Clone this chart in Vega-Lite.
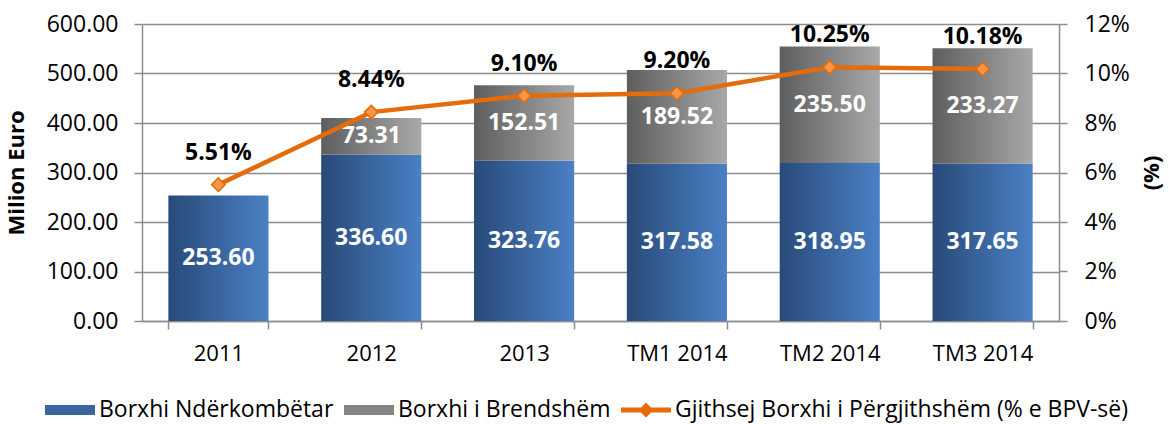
{
  "$schema": "https://vega.github.io/schema/vega-lite/v6.json",
  "width": 917,
  "height": 297,
  "autosize": {"type": "none"},
  "padding": {"left": 142, "top": 24, "right": 110, "bottom": 103},
  "background": "white",
  "config": {
    "font": "Open Sans",
    "view": {"stroke": null},
    "axis": {"labelFont": "Open Sans", "labelColor": "#000000", "titleFont": "Open Sans", "titleColor": "#000000"}
  },
  "datasets": {
    "debt": [
      {"cat": "2011", "series": "Borxhi Ndërkombëtar", "value": 253.60},
      {"cat": "2012", "series": "Borxhi Ndërkombëtar", "value": 336.60},
      {"cat": "2012", "series": "Borxhi i Brendshëm", "value": 73.31},
      {"cat": "2013", "series": "Borxhi Ndërkombëtar", "value": 323.76},
      {"cat": "2013", "series": "Borxhi i Brendshëm", "value": 152.51},
      {"cat": "TM1 2014", "series": "Borxhi Ndërkombëtar", "value": 317.58},
      {"cat": "TM1 2014", "series": "Borxhi i Brendshëm", "value": 189.52},
      {"cat": "TM2 2014", "series": "Borxhi Ndërkombëtar", "value": 318.95},
      {"cat": "TM2 2014", "series": "Borxhi i Brendshëm", "value": 235.50},
      {"cat": "TM3 2014", "series": "Borxhi Ndërkombëtar", "value": 317.65},
      {"cat": "TM3 2014", "series": "Borxhi i Brendshëm", "value": 233.27}
    ],
    "pct": [
      {"cat": "2011", "pct": 0.0551},
      {"cat": "2012", "pct": 0.0844},
      {"cat": "2013", "pct": 0.0910},
      {"cat": "TM1 2014", "pct": 0.0920},
      {"cat": "TM2 2014", "pct": 0.1025},
      {"cat": "TM3 2014", "pct": 0.1018}
    ]
  },
  "encoding": {
    "x": {
      "field": "cat",
      "type": "nominal",
      "sort": null,
      "scale": {"paddingInner": 0.345, "paddingOuter": 0.1725},
      "axis": {
        "title": null,
        "labelAngle": 0,
        "labelFontSize": 22,
        "labelPadding": 14,
        "tickBand": "extent",
        "tickSize": 8,
        "tickColor": "#8c8c8c",
        "tickWidth": 1.5,
        "domainColor": "#8c8c8c",
        "domainWidth": 1.5
      }
    }
  },
  "layer": [
    {
      "data": {"name": "debt"},
      "layer": [
        {
          "mark": {"type": "bar"},
          "encoding": {
            "y": {
              "field": "value",
              "type": "quantitative",
              "stack": "zero",
              "scale": {"domain": [0, 600]},
              "axis": {
                "title": "Milion Euro",
                "titleFontSize": 22,
                "titleFontWeight": "bold",
                "titlePadding": 18,
                "format": ".2f",
                "values": [0, 100, 200, 300, 400, 500, 600],
                "labelFontSize": 23,
                "labelPadding": 16,
                "tickSize": 8,
                "tickColor": "#8c8c8c",
                "tickWidth": 1.5,
                "domainColor": "#8c8c8c",
                "domainWidth": 1.5,
                "grid": true,
                "gridColor": "#8c8c8c",
                "gridWidth": 1.5
              }
            },
            "fill": {
              "condition": {
                "test": "datum.series === 'Borxhi i Brendshëm'",
                "value": {"gradient": "linear", "x1": 0, "y1": 0, "x2": 1, "y2": 0, "stops": [{"offset": 0, "color": "#5e5e5e"}, {"offset": 1, "color": "#a8a8a8"}]}
              },
              "value": {"gradient": "linear", "x1": 0, "y1": 0, "x2": 1, "y2": 0, "stops": [{"offset": 0, "color": "#284a78"}, {"offset": 1, "color": "#4a80c5"}]}
            },
            "order": {"field": "series", "sort": "ascending"}
          }
        },
        {
          "mark": {"type": "point", "filled": true, "opacity": 0, "size": 0},
          "encoding": {
            "y": {"field": "value", "type": "quantitative", "stack": "zero"},
            "color": {
              "field": "series",
              "type": "nominal",
              "scale": {
                "domain": ["Borxhi Ndërkombëtar", "Borxhi i Brendshëm", "Gjithsej Borxhi i Përgjithshëm (% e BPV-së)"],
                "range": ["#3a65a0", "#858585", "#e46c0a"]
              },
              "legend": {
                "title": null,
                "orient": "none",
                "direction": "horizontal",
                "legendX": -97,
                "legendY": 361,
                "labelFont": "Open Sans",
                "labelFontSize": 23,
                "labelColor": "#000000",
                "labelLimit": 600,
                "labelOffset": 4,
                "columnPadding": 10,
                "symbolSize": 2500,
                "symbolStrokeWidth": 0,
                "symbolOpacity": 1,
                "encode": {
                  "symbols": {
                    "update": {
                      "shape": {"signal": "datum.value === 'Gjithsej Borxhi i Përgjithshëm (% e BPV-së)' ? 'M-1,-0.1H1V0.1H-1Z M0,-0.3L0.3,0L0,0.3L-0.3,0Z' : 'M-1,-0.2H1V0.2H-1Z'"},
                      "size": {"value": 2500},
                      "opacity": {"value": 1},
                      "fillOpacity": {"value": 1},
                      "strokeWidth": {"value": 0},
                      "fill": {"signal": "datum.value === 'Borxhi Ndërkombëtar' ? {gradient: 'linear', x1: 0, y1: 0, x2: 1, y2: 0, stops: [{offset: 0, color: '#284a78'}, {offset: 1, color: '#4a80c5'}]} : datum.value === 'Borxhi i Brendshëm' ? {gradient: 'linear', x1: 0, y1: 0, x2: 1, y2: 0, stops: [{offset: 0, color: '#5e5e5e'}, {offset: 1, color: '#a8a8a8'}]} : '#e46c0a'"}
                    }
                  }
                }
              }
            }
          }
        },
        {
          "transform": [
            {"stack": "value", "groupby": ["cat"], "sort": [{"field": "series", "order": "ascending"}], "as": ["v0", "v1"]},
            {"fold": ["v0", "v1"], "as": ["edge", "pos"]},
            {"aggregate": [{"op": "mean", "field": "pos", "as": "mid"}, {"op": "max", "field": "value", "as": "val"}], "groupby": ["cat", "series"]}
          ],
          "mark": {"type": "text", "color": "white", "fontWeight": "bold", "fontSize": 23, "font": "Open Sans", "baseline": "middle"},
          "encoding": {
            "y": {"field": "mid", "type": "quantitative"},
            "text": {"field": "val", "type": "quantitative", "format": ".2f"}
          }
        }
      ]
    },
    {
      "data": {"name": "pct"},
      "layer": [
        {
          "mark": {"type": "line", "color": "#e46c0a", "strokeWidth": 4.5},
          "encoding": {
            "y": {
              "field": "pct",
              "type": "quantitative",
              "scale": {"domain": [0, 0.12]},
              "axis": {
                "orient": "right",
                "title": "(%)",
                "titleAngle": 270,
                "titleFontSize": 22,
                "titleFontWeight": "bold",
                "titlePadding": 34,
                "format": ".0%",
                "values": [0, 0.02, 0.04, 0.06, 0.08, 0.1, 0.12],
                "labelFontSize": 23,
                "labelPadding": 17,
                "tickSize": 8,
                "tickColor": "#8c8c8c",
                "tickWidth": 1.5,
                "domainColor": "#8c8c8c",
                "domainWidth": 1.5,
                "grid": false
              }
            }
          }
        },
        {
          "mark": {"type": "point", "shape": "diamond", "filled": true, "size": 180, "fill": "#f79646", "stroke": "#e46c0a", "strokeWidth": 1.5, "opacity": 1},
          "encoding": {"y": {"field": "pct", "type": "quantitative"}}
        },
        {
          "mark": {"type": "text", "color": "#000000", "fontWeight": "bold", "fontSize": 23, "font": "Open Sans", "baseline": "middle", "dy": -32},
          "encoding": {
            "y": {"field": "pct", "type": "quantitative"},
            "text": {"field": "pct", "type": "quantitative", "format": ".2%"}
          }
        }
      ]
    }
  ],
  "resolve": {"scale": {"y": "independent"}}
}
